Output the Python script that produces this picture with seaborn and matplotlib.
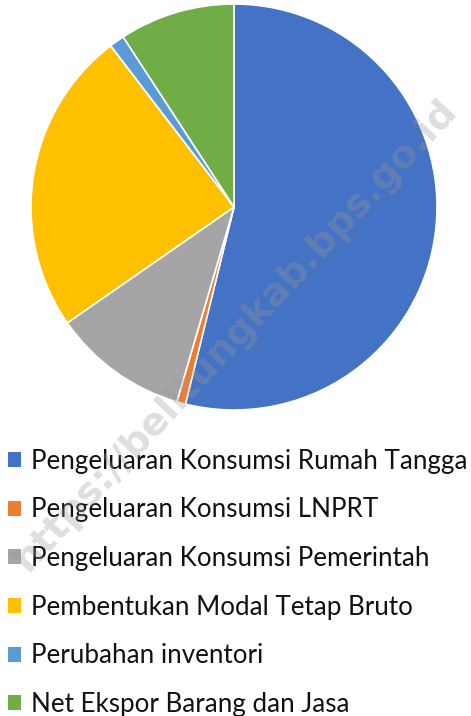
import matplotlib
matplotlib.use("Agg")
import matplotlib.pyplot as plt
import seaborn as sns
from matplotlib.patches import Patch

categories = ["Pengeluaran Konsumsi Rumah Tangga",
              "Pengeluaran Konsumsi LNPRT",
              "Pengeluaran Konsumsi Pemerintah",
              "Pembentukan Modal Tetap Bruto",
              "Perubahan inventori",
              "Net Ekspor Barang dan Jasa"]
shares = [53.9, 0.7, 10.8, 24.3, 1.2, 9.2]
colors = ["#4472C4", "#ED7D31", "#A5A5A5", "#FFC000", "#5B9BD5", "#70AD47"]

sns.set_theme(style="white")
plt.rcParams['font.family'] = ['Lato', 'DejaVu Sans']

fig = plt.figure(figsize=(4.71, 7.16), dpi=100)
ax = fig.add_axes([31/471, (716-410)/716, 406/471, 406/716])
ax.pie(shares, colors=colors, startangle=90, counterclock=False,
       wedgeprops=dict(edgecolor="white", linewidth=1.2))
ax.set_xlim(-1, 1)
ax.set_ylim(-1, 1)
ax.set_aspect("equal")

handles = [Patch(facecolor=c, edgecolor="none") for c in colors]
fig.legend(handles, categories, loc="upper left",
           bbox_to_anchor=(0.0, (716-441)/716), frameon=False,
           fontsize=18.7, labelspacing=0.91, handlelength=0.5, handleheight=0.5,
           handletextpad=0.38, borderaxespad=0, borderpad=0.3,
           labelcolor="#111111")

# watermark
fig.text(236/471, 1-335/716, "https://belitungkab.bps.go.id",
         rotation=47, ha="center", va="center", fontsize=27.5,
         fontweight="bold", color="#9a9a9a", alpha=0.32,
         family="DejaVu Sans", zorder=10)

fig.savefig("out.png", dpi=100)
